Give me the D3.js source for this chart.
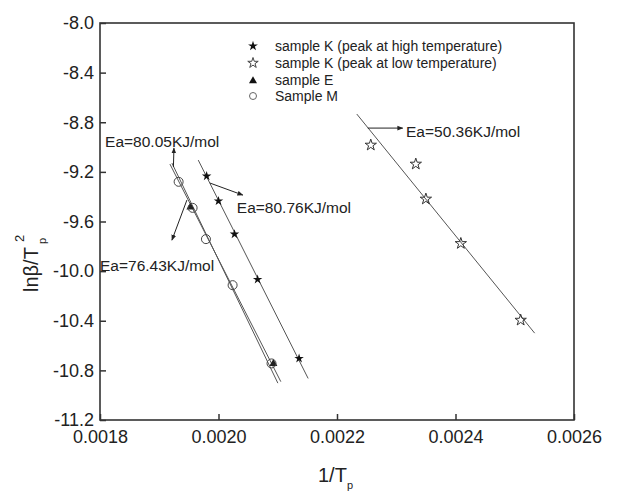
<!DOCTYPE html>
<html>
<head>
<meta charset="utf-8">
<script src="https://cdn.jsdelivr.net/npm/d3@7"></script>
<style>
  body { margin: 0; background: #fff; }
  text { font-family: "Liberation Sans", Arial, sans-serif; fill: #222; }
</style>
</head>
<body>
<svg id="plot" width="620" height="493"></svg>
<script>
// ---- data ----
// sample K, peak at high temperature (filled stars)
let kHighX = [0.001980, 0.002000, 0.002027, 0.002066, 0.002136];
let kHighY = [-9.234, -9.435, -9.702, -10.067, -10.704];
let kHighLine = [[0.0019658, -9.105], [0.0021513, -10.865]];

// sample K, peak at low temperature (open stars)
let kLowX = [0.002257, 0.002333, 0.002350, 0.002409, 0.002510];
let kLowY = [-8.984, -9.137, -9.419, -9.777, -10.395];
let kLowLine = [[0.0022334, -8.734], [0.0025336, -10.500]];

// sample E (filled triangles, mostly hidden under the circles)
let eX = [0.0019526, 0.0020926];
let eY = [-9.484, -10.746];
let eLine = [[0.0019214, -9.129], [0.0021002, -10.903]];

// sample M (open circles)
let mX = [0.0019327, 0.0019563, 0.0019788, 0.0020238, 0.0020895];
let mY = [-9.280, -9.490, -9.742, -10.113, -10.744];
let mLine = [[0.0019180, -9.137], [0.0021052, -10.891]];

// activation energy notes: text anchor and arrow (from -> to)
let noteText = ["Ea=80.05KJ/mol", "Ea=80.76KJ/mol", "Ea=76.43KJ/mol", "Ea=50.36KJ/mol"];
let noteAt = [[0.0018086, -9.000], [0.0020310, -9.533], [0.0018000, -10.000], [0.0023165, -8.918]];
let noteArrow = [
  [[0.0019239, -9.161], [0.0019248, -9.008]],
  [[0.0019855, -9.290], [0.0020411, -9.387]],
  [[0.0019467, -9.427], [0.0019214, -9.750]],
  [[0.0022519, -8.847], [0.0023110, -8.847]]
];

let legendNames = ["sample K (peak at high temperature)", "sample K (peak at low temperature)", "sample E", "Sample M"];

let xTicks = [0.0018, 0.0020, 0.0022, 0.0024, 0.0026];
let yTicks = [-8.0, -8.4, -8.8, -9.2, -9.6, -10.0, -10.4, -10.8, -11.2];

// ---- chart ----
let svg = d3.select("#plot");

let xScale = d3.scaleLinear()
  .domain([0.0018, 0.0026])
  .range([100, 574]);

let yScale = d3.scaleLinear()
  .domain([-11.2, -8.0])
  .range([420, 23]);

let defs = svg.append("defs");
defs.append("marker")
  .attr("id", "head")
  .attr("viewBox", "0 0 10 10")
  .attr("refX", 9)
  .attr("refY", 5)
  .attr("markerWidth", 6)
  .attr("markerHeight", 6)
  .attr("orient", "auto")
  .append("path")
  .attr("d", "M0,1 L10,5 L0,9 Z")
  .attr("fill", "#222");

// axes, ticks point inward
svg.append("g")
  .attr("transform", "translate(0,420)")
  .call(d3.axisBottom(xScale)
    .tickValues(xTicks)
    .tickFormat(d => d.toFixed(4))
    .tickSize(-6)
    .tickPadding(10))
  .call(g => g.select(".domain").remove())
  .call(g => g.selectAll("line").attr("stroke", "#333").attr("stroke-width", 1.5))
  .call(g => g.selectAll("text").style("font-size", "18px").attr("fill", "#222")
    .style("font-family", "'Liberation Sans', Arial, sans-serif"));

svg.append("g")
  .attr("transform", "translate(100,0)")
  .call(d3.axisLeft(yScale)
    .tickValues(yTicks)
    .tickFormat(d => d.toFixed(1))
    .tickSize(-6)
    .tickPadding(6))
  .call(g => g.select(".domain").remove())
  .call(g => g.selectAll("line").attr("stroke", "#333").attr("stroke-width", 1.5))
  .call(g => g.selectAll("text").style("font-size", "18px").attr("fill", "#222")
    .style("font-family", "'Liberation Sans', Arial, sans-serif"));

// frame
svg.append("rect")
  .attr("x", 100).attr("y", 23)
  .attr("width", 474).attr("height", 397)
  .attr("fill", "none")
  .attr("stroke", "#333")
  .attr("stroke-width", 1.6);

// fitted lines
let line = d3.line().x(d => xScale(d[0])).y(d => yScale(d[1]));
[kHighLine, kLowLine, eLine, mLine].forEach(l => {
  svg.append("path")
    .attr("d", line(l))
    .attr("fill", "none")
    .attr("stroke", "#555")
    .attr("stroke-width", 1);
});

// markers
let star = d3.symbol().type(d3.symbolStar);
let tri = d3.symbol().type(d3.symbolTriangle).size(28);

svg.selectAll(".khigh")
  .data(kHighX.map((x, i) => [x, kHighY[i]]))
  .join("path")
  .attr("class", "khigh")
  .attr("transform", d => "translate(" + xScale(d[0]) + "," + yScale(d[1]) + ")")
  .attr("d", star.size(28)())
  .attr("fill", "#111");

svg.selectAll(".klow")
  .data(kLowX.map((x, i) => [x, kLowY[i]]))
  .join("path")
  .attr("class", "klow")
  .attr("transform", d => "translate(" + xScale(d[0]) + "," + yScale(d[1]) + ")")
  .attr("d", star.size(40)())
  .attr("fill", "none")
  .attr("stroke", "#333")
  .attr("stroke-width", 1);

svg.selectAll(".esym")
  .data(eX.map((x, i) => [x, eY[i]]))
  .join("path")
  .attr("class", "esym")
  .attr("transform", d => "translate(" + xScale(d[0]) + "," + yScale(d[1]) + ")")
  .attr("d", tri())
  .attr("fill", "#222");

svg.selectAll(".msym")
  .data(mX.map((x, i) => [x, mY[i]]))
  .join("circle")
  .attr("class", "msym")
  .attr("cx", d => xScale(d[0]))
  .attr("cy", d => yScale(d[1]))
  .attr("r", 4.5)
  .attr("fill", "none")
  .attr("stroke", "#444")
  .attr("stroke-width", 1);

// notes with arrows
noteArrow.forEach(a => {
  svg.append("line")
    .attr("x1", xScale(a[0][0])).attr("y1", yScale(a[0][1]))
    .attr("x2", xScale(a[1][0])).attr("y2", yScale(a[1][1]))
    .attr("stroke", "#222")
    .attr("stroke-width", 1)
    .attr("marker-end", "url(#head)");
});
noteText.forEach((t, i) => {
  svg.append("text")
    .attr("x", xScale(noteAt[i][0]))
    .attr("y", yScale(noteAt[i][1]))
    .style("font-size", "15.5px")
    .attr("fill", "#222")
    .text(t);
});

// legend
let legend = svg.append("g");
let legendY = [46, 63, 80, 96];
legendNames.forEach((name, i) => {
  let cy = legendY[i];
  if (i == 0) {
    legend.append("path").attr("transform", "translate(253," + cy + ")")
      .attr("d", star.size(30)()).attr("fill", "#111");
  } else if (i == 1) {
    legend.append("path").attr("transform", "translate(253," + cy + ")")
      .attr("d", star.size(34)()).attr("fill", "none").attr("stroke", "#444");
  } else if (i == 2) {
    legend.append("path").attr("transform", "translate(253," + (cy + 1) + ")")
      .attr("d", tri()).attr("fill", "#111");
  } else {
    legend.append("circle").attr("cx", 253).attr("cy", cy).attr("r", 3.5)
      .attr("fill", "none").attr("stroke", "#666");
  }
  legend.append("text")
    .attr("x", 275).attr("y", cy + 5)
    .style("font-size", "14px")
    .attr("fill", "#222")
    .text(name);
});

// axis titles
let xt = svg.append("text")
  .attr("x", 318).attr("y", 482)
  .style("font-size", "20px");
xt.append("tspan").text("1/T");
xt.append("tspan").attr("dy", 7).style("font-size", "11px").text("p");

let yt = svg.append("g").attr("transform", "translate(38,292) rotate(-90)");
yt.append("text").attr("x", 0).attr("y", 0).style("font-size", "20px").text("lnβ/T");
yt.append("text").attr("x", 50).attr("y", -14).style("font-size", "13px").text("2");
yt.append("text").attr("x", 48).attr("y", 8).style("font-size", "11px").text("p");
</script>
</body>
</html>
